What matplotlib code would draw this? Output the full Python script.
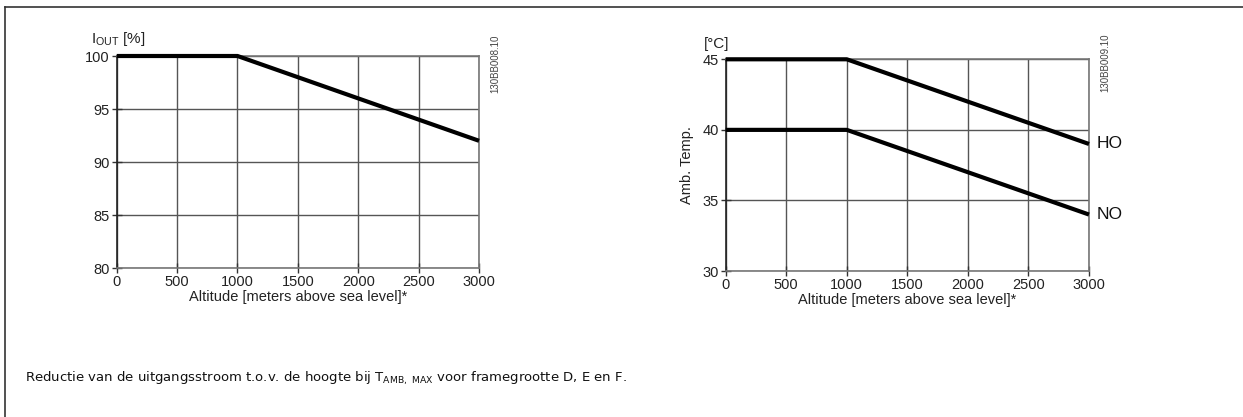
import matplotlib
matplotlib.use('Agg')
import matplotlib.pyplot as plt
from matplotlib.lines import Line2D

plt.rcParams['font.family'] = ['Liberation Sans', 'DejaVu Sans']

# left chart: output current derating
alt_i = [0, 1000, 3000]
i_out = [100, 100, 92]

# right chart: ambient temperature derating
alt_t = [0, 1000, 3000]
temp_ho = [45, 45, 39]
temp_no = [40, 40, 34]

x_ticks = [0, 500, 1000, 1500, 2000, 2500, 3000]
y1_ticks = [80, 85, 90, 95, 100]
y2_ticks = [30, 35, 40, 45]

fig = plt.figure(figsize=(12.43, 4.17), dpi=100)

def style(ax, yt):
    ax.set_xlim(0, 3000)
    ax.set_ylim(yt[0], yt[-1])
    ax.set_xticks(x_ticks)
    ax.set_yticks(yt)
    ax.grid(True, color='#555555', lw=1.0)
    ax.set_axisbelow(True)
    for s in ['top', 'right', 'bottom']:
        ax.spines[s].set_color('#777777')
        ax.spines[s].set_linewidth(1.2)
    ax.spines['left'].set_color('#222222')
    ax.spines['left'].set_linewidth(1.2)
    ax.tick_params(direction='inout', length=7, width=1, colors='#333333',
                   labelcolor='#222222', labelsize=10.5, pad=1.5)
    ax.set_xlabel("Altitude [meters above sea level]*", fontsize=10.5, color='#222222', labelpad=1)

ax1 = fig.add_axes([0.0939, 0.3573, 0.2915, 0.5084])
style(ax1, y1_ticks)
ax1.plot(alt_i, i_out, color='black', lw=3, solid_capstyle='butt', clip_on=False, zorder=5)
ax1.text(-0.07, 1.04, r"I$_{\mathregular{OUT}}$ [%]", transform=ax1.transAxes,
         fontsize=11, ha='left', va='bottom', color='#222222')
ax1.text(1.044, 0.965, "130BB008.10", transform=ax1.transAxes, rotation=90,
         fontsize=7, ha='center', va='center', color='#444444')

ax2 = fig.add_axes([0.5838, 0.3501, 0.2923, 0.5077])
style(ax2, y2_ticks)
ax2.plot(alt_t, temp_ho, color='black', lw=3, solid_capstyle='butt', clip_on=False, zorder=5)
ax2.plot(alt_t, temp_no, color='black', lw=3, solid_capstyle='butt', clip_on=False, zorder=5)
ax2.text(-0.06, 1.04, "[°C]", transform=ax2.transAxes,
         fontsize=11, ha='left', va='bottom', color='#222222')
ax2.set_ylabel("Amb. Temp.", fontsize=10.5, color='#222222', labelpad=6)
ax2.text(1.044, 0.985, "130BB009.10", transform=ax2.transAxes, rotation=90,
         fontsize=7, ha='center', va='center', color='#444444')
ax2.text(3060, temp_ho[-1], "HO", fontsize=12.5, va='center', ha='left', color='#111111')
ax2.text(3060, temp_no[-1], "NO", fontsize=12.5, va='center', ha='left', color='#111111')

fig.text(25/1243, 1 - 378/417,
         r"Reductie van de uitgangsstroom t.o.v. de hoogte bij T$_{\mathregular{AMB,\ MAX}}$ voor framegrootte D, E en F.",
         fontsize=9.5, family='DejaVu Sans', va='center', ha='left', color='#111111')

# page frame (left and top rules)
fig.add_artist(Line2D([4.5/1243, 4.5/1243], [0, 1 - 6.7/417], transform=fig.transFigure,
                      color='#333333', lw=1.2))
fig.add_artist(Line2D([4.5/1243, 1], [1 - 6.7/417, 1 - 6.7/417], transform=fig.transFigure,
                      color='#333333', lw=1.2))

fig.savefig("out.png", dpi=100)
